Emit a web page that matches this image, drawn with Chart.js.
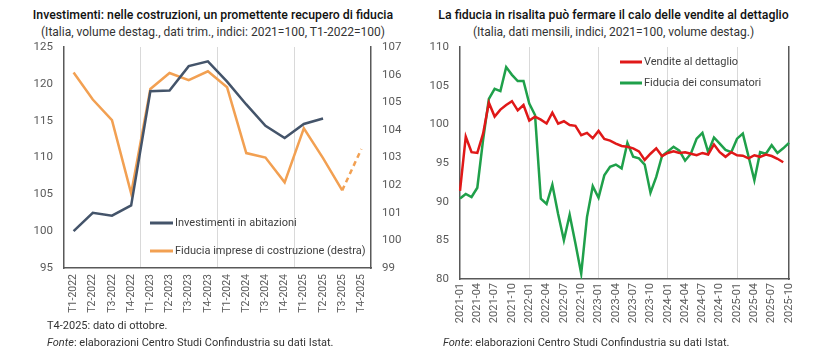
<!DOCTYPE html>
<html><head><meta charset="utf-8">
<script src="https://cdn.jsdelivr.net/npm/chart.js@4.4.1/dist/chart.umd.min.js"></script>
<style>
body{margin:0;background:#fff;width:825px;height:360px;position:relative;overflow:hidden;font-family:Roboto,"Liberation Sans",sans-serif;}
.t{position:absolute;white-space:nowrap;color:#111;text-align:center;}
.title{font-size:12.3px;font-weight:500;font-family:"Roboto Medium",Roboto,sans-serif;}
.sub{font-size:12px;color:#333;}
.note{position:absolute;white-space:nowrap;font-size:11px;color:#333;}
.box{position:absolute;}
</style></head><body>
<div class="t title" style="left:0;width:426px;top:8px;">Investimenti: nelle costruzioni, un promettente recupero di fiducia</div>
<div class="t sub" style="left:0;width:426px;top:25px;">(Italia, volume destag., dati trim., indici: 2021=100, T1-2022=100)</div>
<div class="t title" style="left:410px;width:407px;top:8px;">La fiducia in risalita può fermare il calo delle vendite al dettaglio</div>
<div class="t sub" style="left:410px;width:407px;top:25px;">(Italia, dati mensili, indici, 2021=100, volume destag.)</div>
<div class="box" style="left:0;top:30px;width:410px;height:295px;"><canvas id="c1"></canvas></div>
<div class="box" style="left:410px;top:30px;width:415px;height:307px;"><canvas id="c2"></canvas></div>
<div class="note" style="left:47px;top:319px;">T4-2025: dato di ottobre.</div>
<div class="note" style="left:47px;top:336px;"><i>Fonte</i>: elaborazioni Centro Studi Confindustria su dati Istat.</div>
<div class="note" style="left:443px;top:336px;"><i>Fonte</i>: elaborazioni Centro Studi Confindustria su dati Istat.</div>
<script>
// ---- Left chart data ----
const quarters = ["T1-2022","T2-2022","T3-2022","T4-2022","T1-2023","T2-2023","T3-2023","T4-2023","T1-2024","T2-2024","T3-2024","T4-2024","T1-2025","T2-2025","T3-2025","T4-2025"];
const investimentiAbitazioni = [100.0,102.5,102.1,103.5,119.0,119.1,122.4,123.05,120.3,117.2,114.3,112.65,114.55,115.3,null,null];
const fiduciaImprese = [106.08,105.1,104.35,101.7,105.48,106.06,105.8,106.12,105.54,103.16,103.0,102.1,104.06,102.98,101.81,103.31];
const leftTicks = [95,100,105,110,115,120,125];
const rightTicks = [99,100,101,102,103,104,105,106,107];

// ---- Right chart data ----
const months = ["2021-01","2021-02","2021-03","2021-04","2021-05","2021-06","2021-07","2021-08","2021-09","2021-10","2021-11","2021-12",
"2022-01","2022-02","2022-03","2022-04","2022-05","2022-06","2022-07","2022-08","2022-09","2022-10","2022-11","2022-12",
"2023-01","2023-02","2023-03","2023-04","2023-05","2023-06","2023-07","2023-08","2023-09","2023-10","2023-11","2023-12",
"2024-01","2024-02","2024-03","2024-04","2024-05","2024-06","2024-07","2024-08","2024-09","2024-10","2024-11","2024-12",
"2025-01","2025-02","2025-03","2025-04","2025-05","2025-06","2025-07","2025-08","2025-09","2025-10"];
const venditeDettaglio = [91.4,98.4,96.4,96.3,98.8,102.8,101.0,101.9,102.5,103.0,101.8,102.5,
100.5,101.0,100.6,100.1,101.5,100.1,100.4,99.9,99.8,98.6,98.9,98.2,
99.15,98.1,97.9,97.5,97.2,97.1,96.9,96.5,95.4,96.2,96.9,95.9,
96.3,96.5,96.3,96.4,96.2,96.0,96.3,96.1,97.4,96.4,95.8,96.4,
96.0,95.95,95.6,96.0,95.8,96.1,95.9,95.55,95.1,null];
const fiduciaConsumatori = [90.4,91.0,90.6,91.8,98.0,103.3,104.6,104.3,107.4,106.4,105.6,105.6,
102.7,101.2,90.4,89.7,92.2,88.4,85.0,88.3,84.6,80.7,88.0,92.0,
90.5,93.4,94.5,94.8,94.3,97.6,95.8,95.6,94.8,91.15,93.2,95.9,
96.5,97.1,96.6,95.3,96.2,98.15,98.9,96.4,98.3,97.5,96.7,96.4,
98.15,98.8,95.8,92.75,96.4,96.2,97.3,96.3,96.9,97.6];

const FONT = "Roboto";
const TICKCOL = "#595959";
const AXISCOL = "#595959";
const GRIDCOL = "#d9d9d9";

const inLegend = {
  id:'inLegend',
  afterDatasetsDraw(chart, args, opts){
    const {ctx, chartArea} = chart;
    ctx.save();
    ctx.font = "11px " + FONT;
    ctx.textBaseline = "middle";
    ctx.textAlign = "left";
    opts.rows.forEach((r,i)=>{
      const ds = chart.data.datasets[i];
      const x = chartArea.left + opts.x, y = chartArea.top + r;
      ctx.strokeStyle = ds.borderColor; ctx.lineWidth = 3; ctx.setLineDash([]);
      ctx.beginPath(); ctx.moveTo(x, y); ctx.lineTo(x + opts.len, y); ctx.stroke();
      ctx.fillStyle = "#404040";
      ctx.fillText(ds.label, x + opts.len + 2, y);
    });
    ctx.restore();
  }
};

function gridAt(list){
  return (c)=> list.includes(c.index) ? GRIDCOL : 'rgba(0,0,0,0)';
}
function fixV(w){ return (s)=>{ s.width = w; s.paddingTop = 0; s.paddingBottom = 0; }; }
function fixH(h){ return (s)=>{ s.height = h; s.paddingLeft = 0; s.paddingRight = 0; }; }

new Chart(document.getElementById('c1'), {
  type:'line',
  data:{
    labels: quarters,
    datasets:[
      {label:'Investimenti in abitazioni', data: investimentiAbitazioni, yAxisID:'y', borderColor:'#44546a', borderWidth:2.5, pointRadius:0, tension:0, spanGaps:false},
      {label:'Fiducia imprese di costruzione (destra)', data: fiduciaImprese, yAxisID:'y1', borderColor:'#f2a052', borderWidth:2.5, pointRadius:0, tension:0,
        segment:{borderDash: c => c.p1DataIndex === quarters.length-1 ? [5,4] : undefined}}
    ]
  },
  options:{
    responsive:true, maintainAspectRatio:false, animation:false,
    layout:{padding:{top:17,left:0,right:0,bottom:0}},
    plugins:{legend:{display:false}, tooltip:{enabled:false},
      inLegend:{x:86, len:23, rows:[176,204]}},
    scales:{
      x:{type:'category', offset:true,
         grid:{offset:true, color: gridAt([4,8,12]), drawTicks:false, lineWidth:1},
         border:{display:true, color:AXISCOL, width:1.5},
         ticks:{autoSkip:false, minRotation:90, maxRotation:90, padding:6, color:TICKCOL, font:{family:FONT, size:10.5}},
         afterFit: fixH(57)},
      y:{position:'left', min:95, max:125, afterBuildTicks(s){ s.ticks = leftTicks.map(v=>({value:v})); },
         grid:{display:false, drawTicks:false},
         border:{display:true, color:AXISCOL, width:1.5},
         ticks:{padding:11, color:TICKCOL, font:{family:FONT, size:11.5}},
         afterFit: fixV(64)},
      y1:{position:'right', min:99, max:107, afterBuildTicks(s){ s.ticks = rightTicks.map(v=>({value:v})); },
         grid:{display:false, drawTicks:false},
         border:{display:true, color:AXISCOL, width:1.5},
         ticks:{padding:11, color:TICKCOL, font:{family:FONT, size:11.5}},
         afterFit: fixV(39)}
    }
  },
  plugins:[inLegend]
});

new Chart(document.getElementById('c2'), {
  type:'line',
  data:{
    labels: months,
    datasets:[
      {label:'Vendite al dettaglio', data: venditeDettaglio, yAxisID:'y', borderColor:'#e01818', borderWidth:2.5, pointRadius:0, tension:0},
      {label:'Fiducia dei consumatori', data: fiduciaConsumatori, yAxisID:'y', borderColor:'#1fa04a', borderWidth:2.5, pointRadius:0, tension:0}
    ]
  },
  options:{
    responsive:true, maintainAspectRatio:false, animation:false,
    layout:{padding:{top:17,left:0,right:36,bottom:0}},
    plugins:{legend:{display:false}, tooltip:{enabled:false},
      inLegend:{x:160, len:22, rows:[15,36]}},
    scales:{
      x:{type:'category', offset:false,
         grid:{color: gridAt([12,24,36,48]), drawTicks:false, lineWidth:1},
         border:{display:true, color:AXISCOL, width:1.5},
         ticks:{autoSkip:false, minRotation:90, maxRotation:90, padding:4, color:TICKCOL, font:{family:FONT, size:11},
           callback(v, i){ return i % 3 === 0 ? months[i] : ''; }},
         afterFit: fixH(58)},
      y:{position:'left', min:80, max:110, ticks:{stepSize:5, padding:11, color:TICKCOL, font:{family:FONT, size:11.5}},
         grid:{display:false, drawTicks:false},
         border:{display:true, color:AXISCOL, width:1.5},
         afterFit: fixV(50)},
      yR:{position:'right', min:80, max:110, display:true,
         ticks:{display:false}, grid:{display:false, drawTicks:false},
         border:{display:true, color:AXISCOL, width:1.5},
         afterFit: fixV(0)}
    }
  },
  plugins:[inLegend]
});
</script>
</body></html>
